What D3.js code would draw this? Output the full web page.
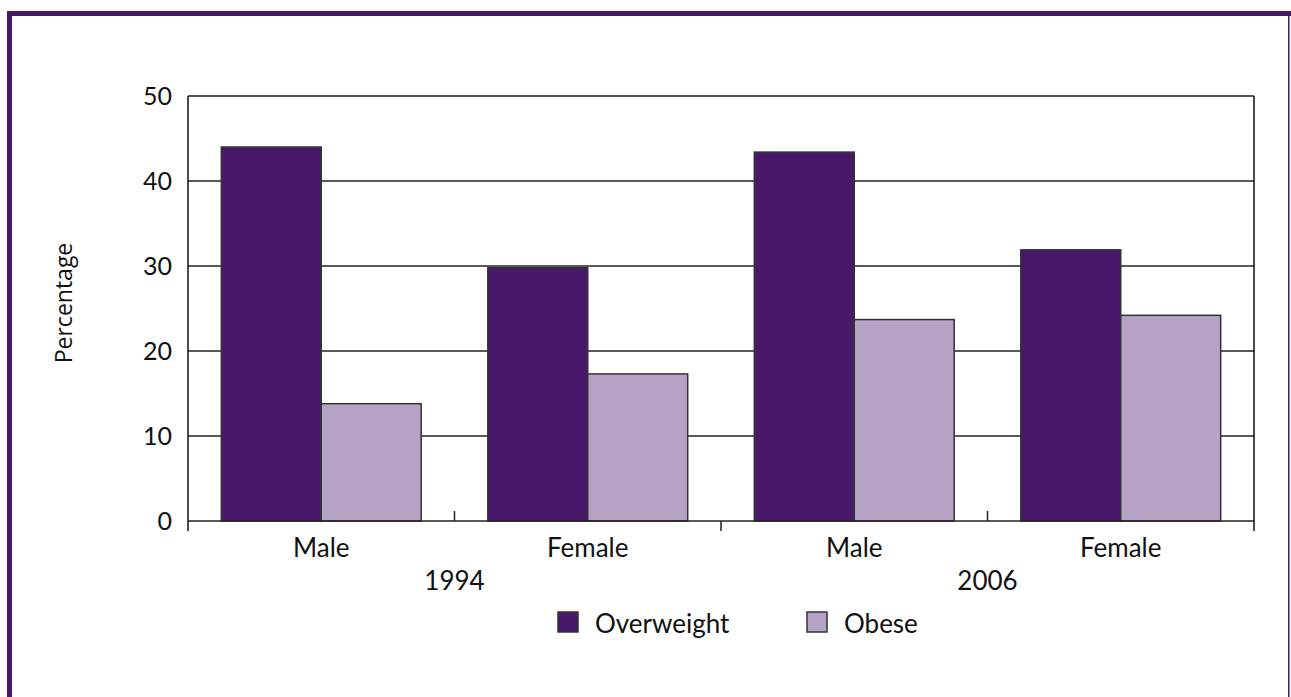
<!DOCTYPE html>
<html>
<head>
<meta charset="utf-8">
<script src="https://cdn.jsdelivr.net/npm/d3@7"></script>
<style>
  body { margin: 0; background: #fff; }
  text { font-family: "Lato", "Open Sans", sans-serif; fill: #111; }
</style>
</head>
<body>
<svg width="1291" height="697"></svg>
<script>
// data
const years = ["1994", "2006"];
const sexes = ["Male", "Female"];
const series = ["Overweight", "Obese"];
const overweight = [44.0, 29.8, 43.4, 31.9];
const obese = [13.8, 17.3, 23.7, 24.2];
const yTicks = [0, 10, 20, 30, 40, 50];

const colors = { "Overweight": "#4a186b", "Obese": "#b5a2c5" };

var svg = d3.select("svg"),
    width = +svg.attr("width"),
    height = +svg.attr("height");

// purple frame
svg.append("rect").attr("x", 7).attr("y", 11).attr("width", 1284).attr("height", 5).attr("fill", "#4a186b");
svg.append("rect").attr("x", 7).attr("y", 11).attr("width", 5).attr("height", height - 11).attr("fill", "#4a186b");
svg.append("rect").attr("x", 1288).attr("y", 11).attr("width", 1.5).attr("height", height - 11).attr("fill", "#4a186b");

var pLeft = 188, pRight = 1254, pTop = 96, pBottom = 521;

// one slot per year/sex pair
var cats = [];
years.forEach(function(yr) { sexes.forEach(function(s) { cats.push(yr + "|" + s); }); });

var x = d3.scaleBand().domain(cats).range([pLeft, pRight]).paddingInner(0.25).paddingOuter(0.125);
var xSub = d3.scaleBand().domain(series).range([0, x.bandwidth()]);
var y = d3.scaleLinear().domain([0, 50]).range([pBottom, pTop]);

// grid lines
svg.append("g").selectAll("line").data(yTicks.filter(d => d > 0 && d < 50)).join("line")
    .attr("x1", pLeft).attr("x2", pRight)
    .attr("y1", d => y(d)).attr("y2", d => y(d))
    .attr("stroke", "#222").attr("stroke-width", 1.5);

// plot box top and right
svg.append("line").attr("x1", pLeft).attr("x2", pRight).attr("y1", pTop).attr("y2", pTop)
    .attr("stroke", "#555").attr("stroke-width", 2);
svg.append("line").attr("x1", pRight).attr("x2", pRight).attr("y1", pTop).attr("y2", pBottom + 10)
    .attr("stroke", "#111").attr("stroke-width", 1.5);

// bars
var rows = cats.map(function(c, i) {
  return { cat: c, values: [{ key: "Overweight", v: overweight[i] }, { key: "Obese", v: obese[i] }] };
});
var groups = svg.append("g").selectAll("g").data(rows).join("g")
    .attr("transform", d => "translate(" + x(d.cat) + ",0)");
groups.selectAll("rect").data(d => d.values).join("rect")
    .attr("x", d => xSub(d.key))
    .attr("y", d => y(d.v))
    .attr("width", xSub.bandwidth())
    .attr("height", d => y(0) - y(d.v))
    .attr("fill", d => colors[d.key])
    .attr("stroke", "#333").attr("stroke-width", 1.5);

// y axis
var yAxis = d3.axisLeft(y).tickValues(yTicks).tickSize(0).tickPadding(16);
var gy = svg.append("g").attr("transform", "translate(" + pLeft + ",0)").call(yAxis);
gy.select(".domain").remove();
gy.selectAll("text").style("font-size", "25px").attr("fill", "#111").attr("font-family", null);
svg.append("line").attr("x1", pLeft).attr("x2", pLeft).attr("y1", pTop).attr("y2", pBottom + 10)
    .attr("stroke", "#111").attr("stroke-width", 1.5);

// x axis line and ticks
svg.append("line").attr("x1", pLeft).attr("x2", pRight).attr("y1", pBottom).attr("y2", pBottom)
    .attr("stroke", "#222").attr("stroke-width", 1.5);
var step = x.step();
var bounds = d3.range(1, cats.length).map(i => pLeft + i * step);
svg.append("g").selectAll("line").data(bounds).join("line")
    .attr("x1", d => d).attr("x2", d => d)
    .attr("y1", (d, i) => (i % 2 === 0) ? pBottom - 10 : pBottom)
    .attr("y2", (d, i) => (i % 2 === 0) ? pBottom : pBottom + 10)
    .attr("stroke", "#222").attr("stroke-width", 1.5);

// category labels
svg.append("g").selectAll("text").data(cats).join("text")
    .attr("x", d => x(d) + x.bandwidth() / 2)
    .attr("y", 557)
    .attr("text-anchor", "middle")
    .style("font-size", "26px")
    .text(d => d.split("|")[1]);

svg.append("g").selectAll("text").data(years).join("text")
    .attr("x", (d, i) => pLeft + (i * 2 + 1) * step)
    .attr("y", 590)
    .attr("text-anchor", "middle")
    .style("font-size", "26px")
    .text(d => d);

// y label
svg.append("text")
    .attr("transform", "translate(72,303) rotate(-90)")
    .attr("text-anchor", "middle")
    .style("font-family", "'Open Sans', sans-serif")
    .style("font-size", "23px")
    .text("Percentage");

// legend
var legendX = [558, 807];
var lg = svg.append("g").selectAll("g").data(series).join("g")
    .attr("transform", (d, i) => "translate(" + legendX[i] + ",612)");
lg.append("rect").attr("width", 20).attr("height", 20)
    .attr("fill", d => colors[d]).attr("stroke", "#333").attr("stroke-width", 1.5);
lg.append("text").attr("x", 37).attr("y", 21).style("font-size", "26px").text(d => d);
</script>
</body>
</html>
